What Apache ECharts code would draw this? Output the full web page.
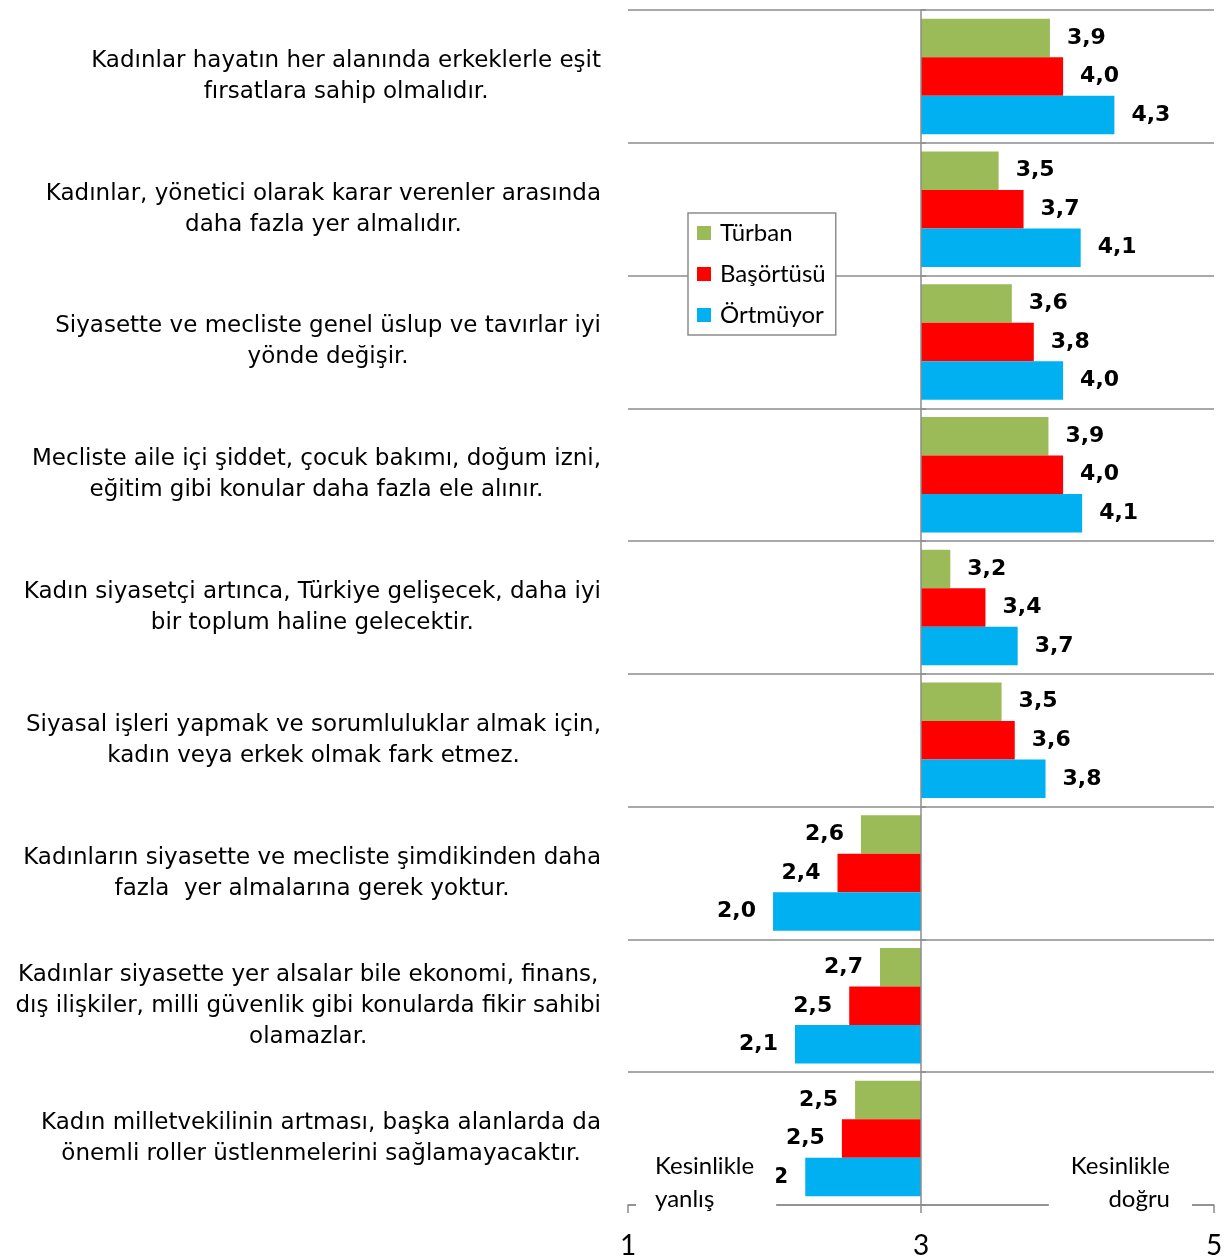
<!DOCTYPE html>
<html>
<head>
<meta charset="utf-8">
<script src="https://cdn.jsdelivr.net/npm/echarts@6/dist/echarts.min.js"></script>
<style>
  html, body { margin: 0; padding: 0; background: #fff; }
  #chart { width: 1231px; height: 1260px; }
</style>
</head>
<body>
<div id="chart"></div>
<script>
// ifadeler (kategoriler)
var statements = [
    "Kadınlar hayatın her alanında erkeklerle eşit\nfırsatlara sahip olmalıdır.",
    "Kadınlar, yönetici olarak karar verenler arasında\ndaha fazla yer almalıdır.",
    "Siyasette ve mecliste genel üslup ve tavırlar iyi\nyönde değişir.",
    "Mecliste aile içi şiddet, çocuk bakımı, doğum izni,\neğitim gibi konular daha fazla ele alınır.",
    "Kadın siyasetçi artınca, Türkiye gelişecek, daha iyi\nbir toplum haline gelecektir.",
    "Siyasal işleri yapmak ve sorumluluklar almak için,\nkadın veya erkek olmak fark etmez.",
    "Kadınların siyasette ve mecliste şimdikinden daha\nfazla  yer almalarına gerek yoktur.",
    "Kadınlar siyasette yer alsalar bile ekonomi, finans,\ndış ilişkiler, milli güvenlik gibi konularda fikir sahibi\nolamazlar.",
    "Kadın milletvekilinin artması, başka alanlarda da\nönemli roller üstlenmelerini sağlamayacaktır."
];
var seriesNames = ["Türban", "Başörtüsü", "Örtmüyor"];

// ortalama puanlar
var turban    = [3.88, 3.53, 3.62, 3.87, 3.20, 3.55, 2.59, 2.72, 2.55];
var basortusu = [3.97, 3.70, 3.77, 3.97, 3.44, 3.64, 2.43, 2.51, 2.46];
var ortmuyor  = [4.32, 4.09, 3.97, 4.10, 3.66, 3.85, 1.99, 2.14, 2.21];

// grafikteki etiket metinleri
var turbanLabels    = ["3,9", "3,5", "3,6", "3,9", "3,2", "3,5", "2,6", "2,7", "2,5"];
var basortusuLabels = ["4,0", "3,7", "3,8", "4,0", "3,4", "3,6", "2,4", "2,5", "2,5"];
var ortmuyorLabels  = ["4,3", "4,1", "4,0", "4,1", "3,7", "3,8", "2,0", "2,1", "2"];

// eksen: 1 - 3 - 5, çubuklar 3'ten başlar
var axisTicks = [1, 3, 5];
var midPoint = 3;

var colors = ["#9BBB59", "#FF0000", "#00B0F0"];
var lineColor = "#8c8c8c";

var chart = echarts.init(document.getElementById("chart"));

function makeSeries(name, values, labels, color) {
    return {
        name: name,
        type: "bar",
        yAxisIndex: 0,
        barGap: "0%",
        barCategoryGap: "13%",
        itemStyle: { color: color },
        data: values.map(function (v, i) {
            return {
                value: v - midPoint,
                label: {
                    show: true,
                    position: v >= midPoint ? "right" : "left",
                    distance: 17,
                    formatter: labels[i],
                    fontFamily: "DejaVu Sans",
                    fontWeight: 900,
                    fontSize: 22,
                    color: "#000"
                }
            };
        })
    };
}

var option = {
    backgroundColor: "#fff",
    animation: false,
    grid: { left: 628, right: 17, top: 10, bottom: 54, containLabel: false },
    legend: {
        orient: "vertical",
        left: 688,
        top: 213,
        padding: [8, 10, 8, 9],
        itemGap: 17,
        itemWidth: 14,
        itemHeight: 14,
        icon: "rect",
        borderColor: lineColor,
        borderWidth: 1.5,
        backgroundColor: "#fff",
        textStyle: { fontFamily: "Lato", fontSize: 24, color: "#000", padding: [0, 0, 0, 4] },
        data: seriesNames
    },
    xAxis: {
        type: "value",
        min: axisTicks[0] - midPoint,
        max: axisTicks[2] - midPoint,
        interval: 2,
        axisLine: { show: true, onZero: false, lineStyle: { color: lineColor, width: 1.5 } },
        axisTick: { show: true, length: 8, lineStyle: { color: lineColor, width: 1.5 } },
        axisLabel: {
            margin: 27,
            fontFamily: "Lato",
            fontSize: 28,
            color: "#000",
            formatter: function (v) { return String(v + midPoint); }
        },
        splitLine: { show: false }
    },
    yAxis: [
        {
            type: "category",
            data: statements,
            inverse: true,
            axisLine: { show: false, onZero: false },
            axisTick: { show: false },
            splitLine: { show: true, lineStyle: { color: lineColor, width: 1.5 } },
            axisLabel: {
                margin: 27,
                align: "right",
                lineHeight: 31,
                formatter: function (v) {
                    return v.split("\n").map(function (l) { return "{c|" + l + "}"; }).join("\n");
                },
                rich: {
                    c: { align: "center", fontFamily: "DejaVu Sans", fontSize: 23, lineHeight: 31, color: "#000" }
                }
            }
        },
        {
            // 3 noktasındaki dikey eksen çizgisi
            type: "category",
            data: statements,
            inverse: true,
            z: 5,
            axisLine: { show: true, onZero: true, lineStyle: { color: lineColor, width: 1.5 } },
            axisTick: { show: true, length: 5, lineStyle: { color: lineColor, width: 1.5 } },
            axisLabel: { show: false },
            splitLine: { show: false }
        }
    ],
    graphic: [
        {
            type: "text",
            x: 636,
            y: 1148,
            z: 100,
            style: {
                text: "Kesinlikle\nyanlış",
                fontFamily: "Lato",
                fontSize: 24,
                lineHeight: 33,
                fill: "#000",
                align: "left",
                backgroundColor: "#fff",
                padding: [2, 22, 4, 19]
            }
        },
        {
            type: "text",
            x: 1192,
            y: 1148,
            z: 100,
            style: {
                text: "Kesinlikle\ndoğru",
                fontFamily: "Lato",
                fontSize: 24,
                lineHeight: 33,
                fill: "#000",
                align: "right",
                backgroundColor: "#fff",
                padding: [2, 22, 4, 22]
            }
        }
    ],
    series: [
        makeSeries(seriesNames[0], turban, turbanLabels, colors[0]),
        makeSeries(seriesNames[1], basortusu, basortusuLabels, colors[1]),
        makeSeries(seriesNames[2], ortmuyor, ortmuyorLabels, colors[2])
    ]
};

chart.setOption(option);
</script>
</body>
</html>
